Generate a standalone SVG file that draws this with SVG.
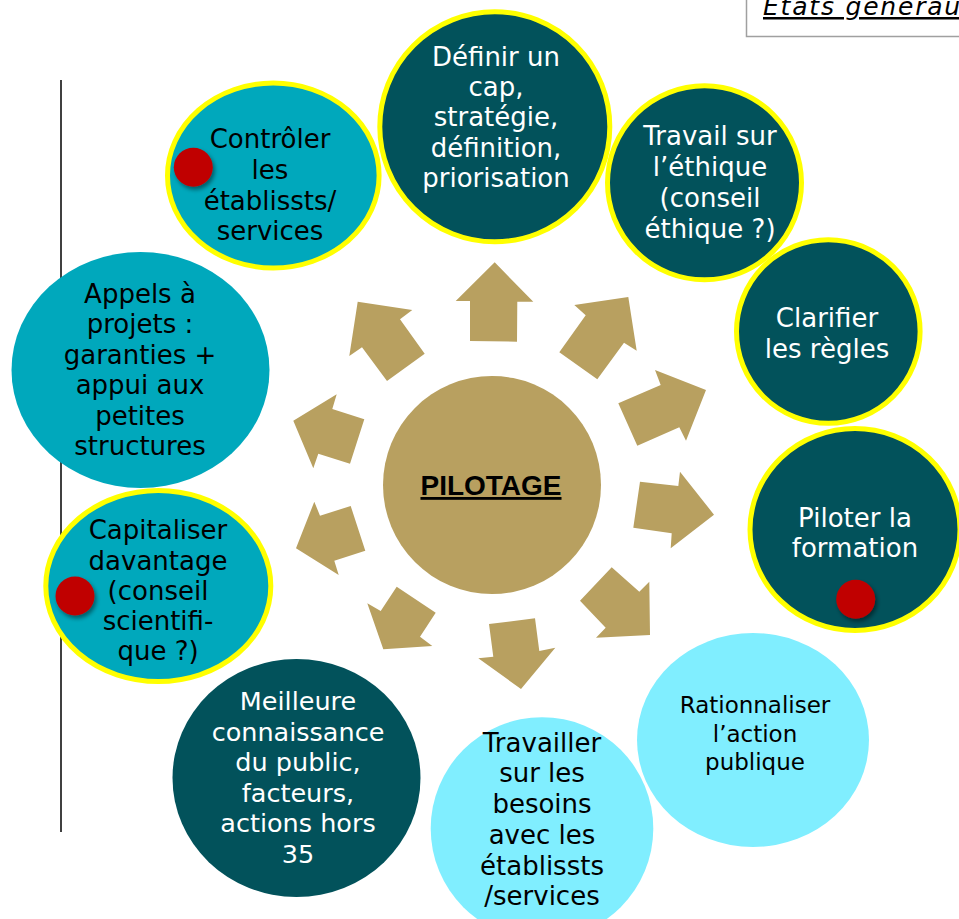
<svg xmlns="http://www.w3.org/2000/svg" width="959" height="919" viewBox="0 0 959 919">
<defs>
<filter id="sh" x="-50%" y="-50%" width="200%" height="200%">
<feDropShadow dx="2" dy="3" stdDeviation="2" flood-color="#000" flood-opacity="0.45"/>
</filter>
</defs>
<style>
.dark{fill:#02525B}
.teal{fill:#00A8BC}
.light{fill:#80EEFF}
.ring{stroke:#FFFF00;stroke-width:5}
.arrow{fill:#B8A060}
.dot{fill:#C00000;filter:url(#sh)}
text{font-family:"DejaVu Sans","Noto Sans",sans-serif;font-size:26px;text-anchor:middle}
.w{fill:#FFFFFF}
.b{fill:#000000}
</style>
<rect width="959" height="919" fill="#FFFFFF"/>
<g id="header">
<path d="M746.5,-2 V36.5 H962" fill="none" stroke="#A0A0A0" stroke-width="1.5"/>
<text x="763" y="15" style="font-style:italic;font-size:25px;letter-spacing:1.8px;text-anchor:start;text-decoration:underline" class="b">États générau</text>
</g>
<line id="side-line" x1="61" y1="80" x2="61" y2="832" stroke="#000" stroke-width="1.5"/>
<g id="connectors">
<polygon class="arrow" points="455.7,301 494.7,262.3 533.3,301.7 517.3,301.7 517,341.7 470,341 470,301"/>
<polygon class="arrow" points="574.3,305 628.3,297 636.7,350.7 624,342.7 597.3,379.3 559.3,352.3 585.7,315.3"/>
<polygon class="arrow" points="618.3,403.3 660.7,385 655,370 706,390 686,440.7 679.3,427.3 637.3,445.7"/>
<polygon class="arrow" points="640,481.7 678.3,486 680,471.7 714,514.7 670.7,548.3 671.7,533.3 633.3,527.7"/>
<polygon class="arrow" points="611.7,567.3 639.3,591.7 649.3,581.7 650,635 596,637.7 605.7,627.7 580,600.7"/>
<polygon class="arrow" points="489,624 535,618.3 539.3,651 555.3,647.7 521,689 478.3,658.3 493.3,656.7"/>
<polygon class="arrow" points="396.7,586.7 435.7,612.7 420,636.7 432.3,646 383.3,649.3 367.3,603.3 380.7,611"/>
<polygon class="arrow" points="314.3,501.7 320,515.7 350.7,506 365.3,550.7 334.3,560.7 338.7,575 296,548.3"/>
<polygon class="arrow" points="336.7,394.3 332.3,409 364.3,419.3 350,463.7 318.3,453.7 313.3,468.3 293.3,420.7"/>
<polygon class="arrow" points="357.7,301.7 412.3,310 400,319.3 424.7,353.7 387,381 362,347.3 349.3,356"/>
</g>
<g id="pilotage">
<circle cx="492" cy="485" r="109" fill="#B8A060"/>
<text x="491" y="495" class="b" style="font-family:'Liberation Sans',Arial,sans-serif;font-weight:bold;font-size:28px;text-decoration:underline">PILOTAGE</text>
</g>
<g id="appels">
<ellipse class="teal" cx="140.5" cy="370" rx="129" ry="118"/>
<text class="b" x="140"><tspan x="140" y="302.7">Appels à</tspan><tspan x="140" y="333.2">projets :</tspan><tspan x="140" y="363.7">garanties +</tspan><tspan x="140" y="394.2">appui aux</tspan><tspan x="140" y="424.7">petites</tspan><tspan x="140" y="455.2">structures</tspan></text>
</g>
<g id="controler">
<ellipse class="teal ring" cx="273.3" cy="175.5" rx="105.8" ry="92.5"/>
<text class="b"><tspan x="270" y="148.3">Contrôler</tspan><tspan x="270" y="179">les</tspan><tspan x="270" y="209.6">établissts/</tspan><tspan x="270" y="240.2">services</tspan></text>
<circle class="dot" cx="193.3" cy="167.3" r="19.5"/>
</g>
<g id="meilleure">
<ellipse class="dark" cx="296.5" cy="778" rx="124" ry="119"/>
<text class="w" style="font-size:25.5px"><tspan x="298" y="710">Meilleure</tspan><tspan x="298" y="740.5">connaissance</tspan><tspan x="298" y="771">du public,</tspan><tspan x="298" y="801.5">facteurs,</tspan><tspan x="298" y="832">actions hors</tspan><tspan x="298" y="862.5">35</tspan></text>
</g>
<g id="capitaliser">
<ellipse class="teal ring" cx="158.3" cy="586" rx="112.5" ry="95.5"/>
<text class="b"><tspan x="158" y="539.3">Capitaliser</tspan><tspan x="158" y="569.5">davantage</tspan><tspan x="158" y="599.7">(conseil</tspan><tspan x="158" y="629.9">scientifi-</tspan><tspan x="158" y="660.1">que ?)</tspan></text>
<circle class="dot" cx="75" cy="596" r="19.5"/>
</g>
<g id="definir">
<circle class="dark ring" cx="494.8" cy="126.8" r="115"/>
<text class="w"><tspan x="496" y="65.5">Définir un</tspan><tspan x="496" y="95.9">cap,</tspan><tspan x="496" y="126.3">stratégie,</tspan><tspan x="496" y="156.7">définition,</tspan><tspan x="496" y="187.1">priorisation</tspan></text>
</g>
<g id="ethique">
<circle class="dark ring" cx="704.5" cy="182.8" r="97"/>
<text class="w"><tspan x="710" y="144.5">Travail sur</tspan><tspan x="710" y="175.5">l’éthique</tspan><tspan x="710" y="206.5">(conseil</tspan><tspan x="710" y="237.5">éthique ?)</tspan></text>
</g>
<g id="clarifier">
<circle class="dark ring" cx="828.3" cy="331.5" r="91.8"/>
<text class="w"><tspan x="827" y="327.3">Clarifier</tspan><tspan x="827" y="358.3">les règles</tspan></text>
</g>
<g id="piloter">
<ellipse class="dark ring" cx="855" cy="529.5" rx="105" ry="101"/>
<text class="w"><tspan x="855" y="526.7">Piloter la</tspan><tspan x="855" y="557.3">formation</tspan></text>
<circle class="dot" cx="855.7" cy="599.3" r="19.5"/>
</g>
<g id="rationnaliser">
<ellipse class="light" cx="753" cy="740" rx="116" ry="107"/>
<text class="b" style="font-size:23px"><tspan x="755" y="713.3">Rationnaliser</tspan><tspan x="755" y="741.5">l’action</tspan><tspan x="755" y="769.5">publique</tspan></text>
</g>
<g id="travailler">
<circle class="light" cx="542" cy="828.5" r="111.3"/>
<text class="b"><tspan x="542" y="751.7">Travailler</tspan><tspan x="542" y="782.4">sur les</tspan><tspan x="542" y="813.1">besoins</tspan><tspan x="542" y="843.8">avec les</tspan><tspan x="542" y="874.5">établissts</tspan><tspan x="542" y="905.2">/services</tspan></text>
</g>
</svg>
